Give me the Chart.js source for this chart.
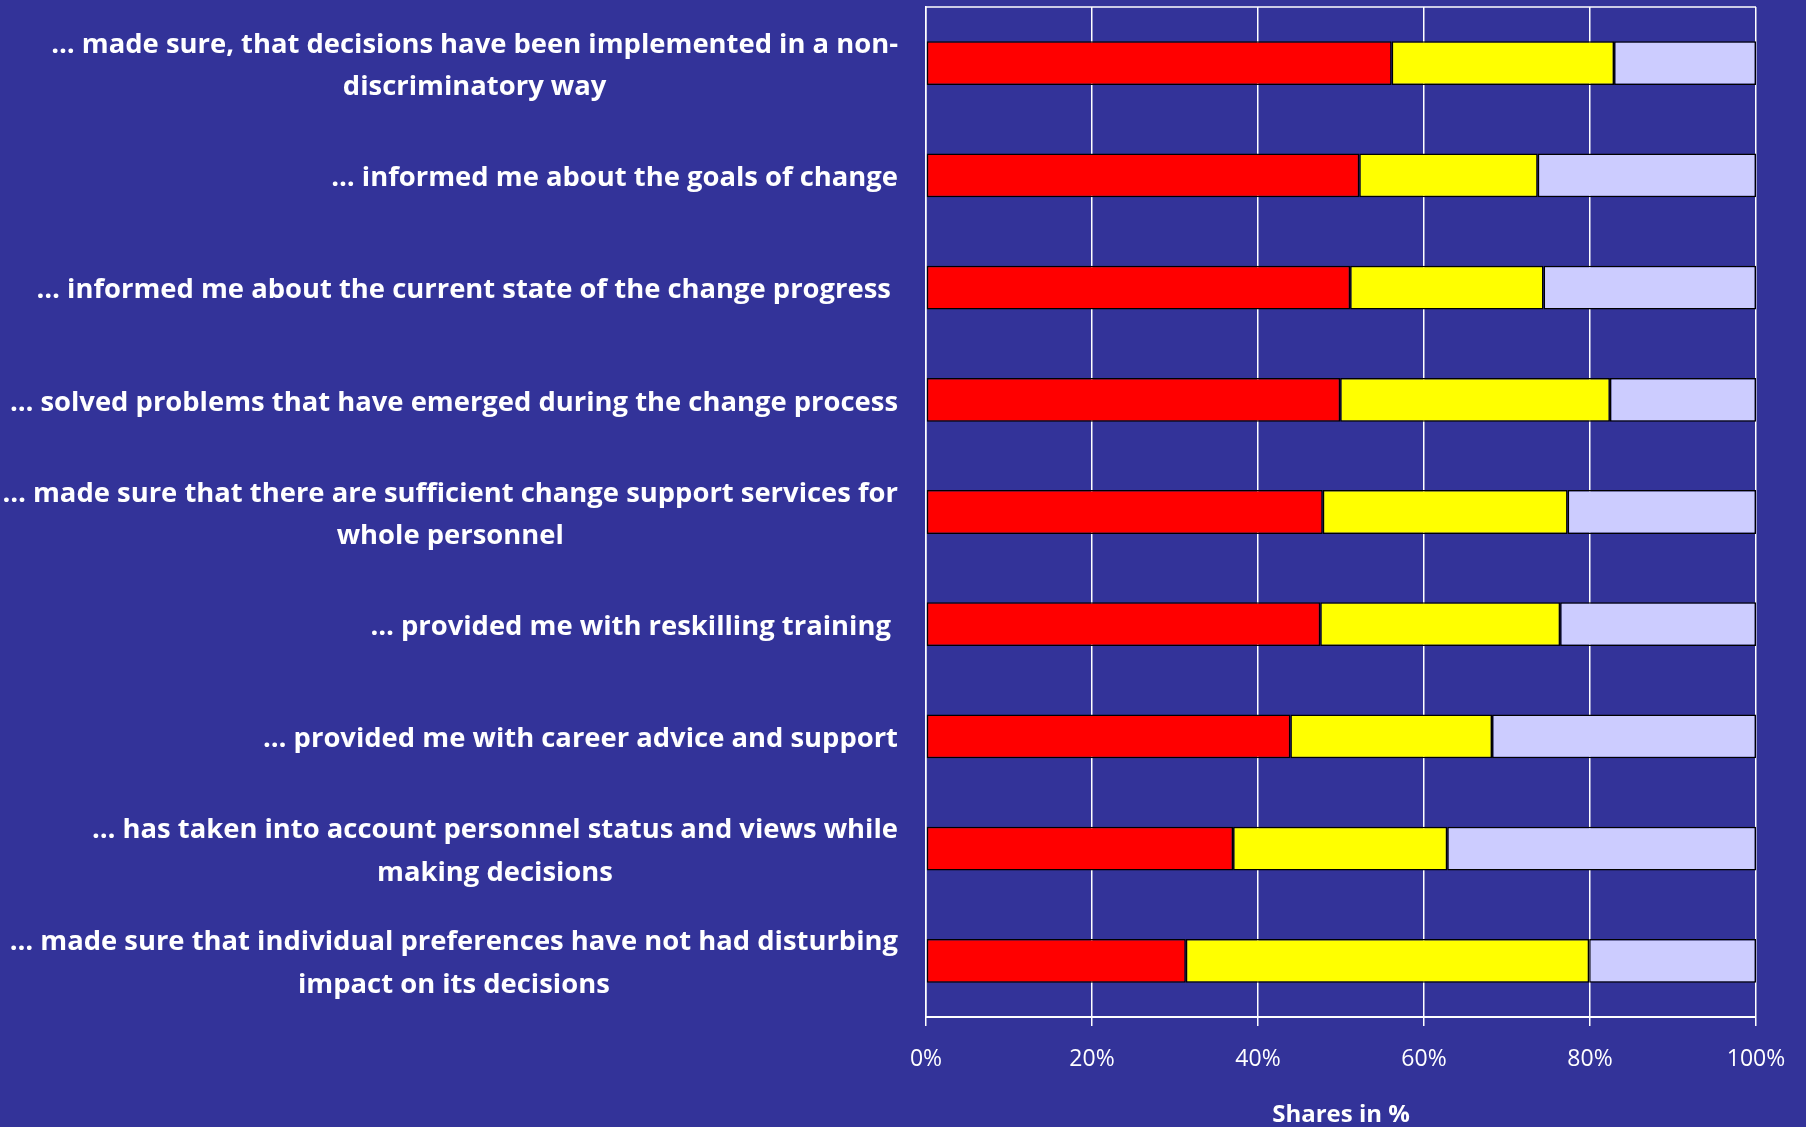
<!DOCTYPE html>
<html>
<head>
<meta charset="utf-8">
<script src="https://cdn.jsdelivr.net/npm/chart.js@4"></script>
<style>
html,body{margin:0;padding:0;background:#333399;}
#wrap{width:1806px;height:1127px;}
</style>
</head>
<body>
<div id="wrap"><canvas id="chart"></canvas></div>
<script>

let categories=[
["… made sure, that decisions have been implemented in a non-","discriminatory way"],
["… informed me about the goals of change"],
["… informed me about the current state of the change progress "],
["… solved problems that have emerged during the change process"],
["… made sure that there are sufficient change support services for","whole personnel"],
["… provided me with reskilling training "],
["… provided me with career advice and support"],
["… has taken into account personnel status and views while","making decisions"],
["… made sure that individual preferences have not had disturbing","impact on its decisions"]
];

let redShares=[56.1,52.2,51.1,49.9,47.8,47.5,43.9,37.0,31.3];
let yellowShares=[26.8,21.5,23.3,32.5,29.5,28.9,24.3,25.8,48.6];
let lilacShares=[17.1,26.3,25.6,17.6,22.7,23.6,31.8,37.2,20.1];

let xTicks=[0,20,40,60,80,100];

let fontFamily="'Open Sans'";
let labelFont="bold 27.4px "+fontFamily;

// category labels: right-aligned block, lines centred inside it
let categoryLabels={
id:"categoryLabels",
afterDraw(c){
let ctx=c.ctx;
let y=c.scales.y;
let area=c.chartArea;

ctx.save();
ctx.strokeStyle="#ffffff";
ctx.lineWidth=1.5;
ctx.beginPath();
ctx.moveTo(area.left,area.top);
ctx.lineTo(area.right,area.top);
ctx.stroke();

ctx.font=labelFont;
ctx.fillStyle="#ffffff";
ctx.textAlign="center";
ctx.textBaseline="middle";
let rightEdge=area.left-28;
let lineGap=42.5;
categories.forEach((lines,i)=>{
let widest=Math.max(...lines.map(l=>ctx.measureText(l).width));
let cx=rightEdge-widest/2;
let cy=y.getPixelForTick(i)+3;
let start=cy-(lines.length-1)*lineGap/2;
lines.forEach((l,j)=>{
ctx.fillText(l,cx,start+j*lineGap);
});
});
ctx.restore();
}
};

let ctx=document.getElementById("chart").getContext("2d");

let chart=new Chart(ctx,{
type:"bar",
data:{
labels:categories,
datasets:[
{label:"red",data:redShares,backgroundColor:"#ff0000"},
{label:"yellow",data:yellowShares,backgroundColor:"#ffff00"},
{label:"lilac",data:lilacShares,backgroundColor:"#ccccff"}
].map(d=>Object.assign(d,{
borderColor:"#000000",
borderWidth:1.5,
borderSkipped:false,
categoryPercentage:1,
barPercentage:0.39
}))
},
options:{
indexAxis:"y",
responsive:true,
maintainAspectRatio:false,
animation:false,
layout:{padding:{top:7,right:50,left:0,bottom:0}},
plugins:{
legend:{display:false},
tooltip:{enabled:false}
},
scales:{
x:{
stacked:true,
min:0,
max:100,
afterBuildTicks(s){
s.ticks=xTicks.map(v=>({value:v}));
},
afterFit(s){
s.height=110;
},
grid:{
color:"#ffffff",
lineWidth:1.5,
tickLength:9
},
border:{color:"#ffffff",width:2},
ticks:{
color:"#ffffff",
padding:20,
font:{family:fontFamily,size:23},
callback:v=>v+"%"
},
title:{
display:true,
text:"Shares in %",
color:"#ffffff",
font:{family:fontFamily,size:24,weight:"bold"},
padding:{top:0,bottom:-3}
}
},
y:{
stacked:true,
afterFit(s){
s.width=926;
},
grid:{display:false},
border:{color:"#ffffff",width:1.5},
ticks:{display:false}
}
}
},
plugins:[categoryLabels]
});

</script>
</body>
</html>
